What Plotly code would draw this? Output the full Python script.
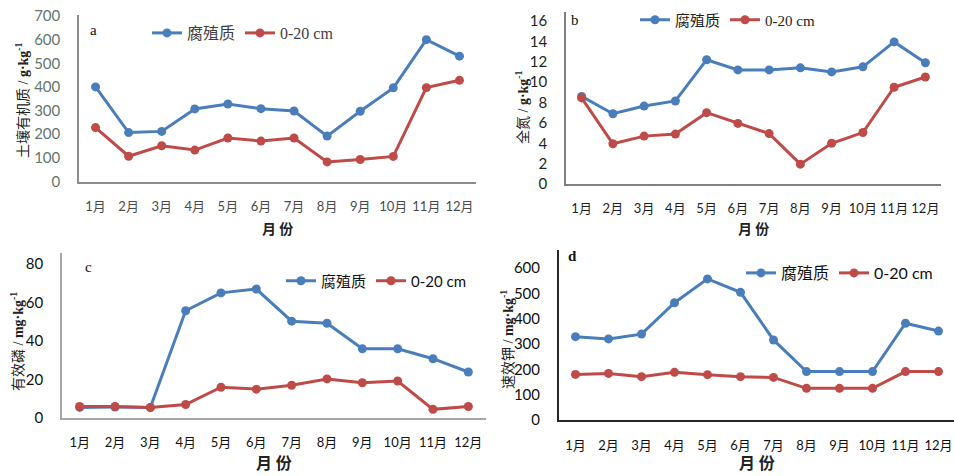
import plotly.graph_objects as go

# Monthly soil nutrient contents: humus layer vs. 0-20 cm topsoil
months = ["1月", "2月", "3月", "4月", "5月", "6月", "7月", "8月", "9月", "10月", "11月", "12月"]
series_names = ["腐殖质", "0-20 cm"]

# a: soil organic matter (g/kg)
organic_humus = [400, 207, 212, 307, 328, 308, 298, 192, 297, 396, 600, 530]
organic_topsoil = [228, 107, 151, 133, 184, 171, 184, 83, 93, 106, 397, 428]
organic_ticks = [0, 100, 200, 300, 400, 500, 600, 700]

# b: total nitrogen (g/kg)
nitrogen_humus = [8.6, 6.9, 7.65, 8.15, 12.2, 11.2, 11.2, 11.4, 11.0, 11.5, 13.95, 11.9]
nitrogen_topsoil = [8.45, 3.95, 4.7, 4.9, 7.0, 5.95, 4.95, 1.95, 4.0, 5.05, 9.5, 10.5]
nitrogen_ticks = [0, 2, 4, 6, 8, 10, 12, 14, 16]

# c: available phosphorus (mg/kg)
phosphorus_humus = [5.5, 5.7, 5.5, 55.7, 65.0, 67.0, 50.3, 49.2, 36.0, 36.0, 30.8, 23.9]
phosphorus_topsoil = [6.0, 6.0, 5.4, 7.0, 16.0, 15.0, 17.0, 20.3, 18.3, 19.2, 4.5, 6.0]
phosphorus_ticks = [0, 20, 40, 60, 80]

# d: available potassium (mg/kg)
potassium_humus = [329, 320, 339, 463, 557, 504, 316, 191, 191, 191, 382, 351]
potassium_topsoil = [180, 184, 171, 188, 179, 171, 168, 125, 125, 125, 191, 191]
potassium_ticks = [0, 100, 200, 300, 400, 500, 600]

BLUE = "#4a7ebb"
RED = "#be4b48"
W, H = 954, 476
CJK = "Noto Sans CJK SC"


def px_x(v):
    return min(v, W) / W


def px_y(v):
    return 1 - min(v, H) / H


fig = go.Figure()

panels = [
    dict(key="", humus=organic_humus, top=organic_topsoil, ticks=organic_ticks,
         x0=79, x1=476, ybot=181.5, ytop=15, tmax=700, tpx=16,
         tickcolor="#64766a", xtickcolor="#4a4a4a", axiscolor="#8c8c8c", axiswidth=1.5,
         tickfont="Lato", legend=dict(x=147, y=33, font="Liberation Serif", size=16, color="#404040"),
         title="土壤有机质 / <b>g·kg<sup>-1</sup></b>", tx=22, ty=100,
         letter="a", lx=93, ly=30, xt_y=228, xt_size=14, xt_anchor="middle"),
    dict(key="2", humus=nitrogen_humus, top=nitrogen_topsoil, ticks=nitrogen_ticks,
         x0=566, x1=941, ybot=184, ytop=12, tmax=16, tpx=21,
         tickcolor="#1e261e", xtickcolor="#1e1e1e", axiscolor="#808080", axiswidth=1.5,
         tickfont="Lato", legend=dict(x=635, y=20, font="Liberation Serif", size=15, color="#222222"),
         title="全氮 / <b>g·kg<sup>-1</sup></b>", tx=522, ty=107,
         letter="b", lx=575, ly=20, xt_y=228, xt_size=14, xt_anchor="middle"),
    dict(key="3", humus=phosphorus_humus, top=phosphorus_topsoil, ticks=phosphorus_ticks,
         x0=62, x1=486, ybot=418, ytop=253, tmax=80, tpx=264,
         tickcolor="#111111", xtickcolor="#111111", axiscolor="#a6a6a6", axiswidth=1.5,
         tickfont="Lato", legend=dict(x=281, y=281, font="Lato", size=15, color="#111111"),
         title="有效磷 / <b>mg·kg<sup>-1</sup></b>", tx=17, ty=342,
         letter="c", lx=88, ly=267, xt_y=476, xt_size=16, xt_anchor="bottom"),
    dict(key="4", humus=potassium_humus, top=potassium_topsoil, ticks=potassium_ticks,
         x0=559, x1=955, ybot=420, ytop=250, tmax=600, tpx=268,
         tickcolor="#111111", xtickcolor="#111111", axiscolor="#262626", axiswidth=2,
         tickfont="Lato", legend=dict(x=741, y=273, font="Lato", size=16, color="#111111"),
         title="速效钾 / <b>mg·kg<sup>-1</sup></b>", tx=507, ty=340,
         letter="<b>d</b>", lx=572, ly=256, xt_y=476, xt_size=16, xt_anchor="bottom"),
]

annotations = []
layout_axes = {}
for p in panels:
    k = p["key"]
    # y range chosen so the top tick sits where the axis scale puts it
    scale = (p["ybot"] - p["tpx"]) / p["tmax"]
    ymax = (p["ybot"] - p["ytop"]) / scale
    # keep the month spacing even when the plot area is clipped at the page edge
    step = (p["x1"] - p["x0"]) / 12
    xmax = -0.5 + (min(p["x1"], W) - p["x0"]) / step
    legend_name = "legend" + k
    for name, vals, color in ((series_names[0], p["humus"], BLUE), (series_names[1], p["top"], RED)):
        fig.add_trace(go.Scatter(
            x=months, y=vals, name=name, mode="lines+markers",
            line=dict(color=color, width=3),
            marker=dict(color=color, size=9),
            xaxis="x" + k, yaxis="y" + k, legend=legend_name,
        ))
    layout_axes["xaxis" + k] = dict(
        domain=[px_x(p["x0"]), px_x(p["x1"])], anchor="y" + k,
        type="category", categoryorder="array", categoryarray=months,
        range=[-0.5, xmax], showgrid=False, zeroline=False, automargin=False,
        showline=True, linecolor=p["axiscolor"], linewidth=p["axiswidth"], ticks="",
        tickfont=dict(family="Lato, " + CJK, size=13, color=p["xtickcolor"]),
        ticklabelstandoff=12, fixedrange=True,
    )
    layout_axes["yaxis" + k] = dict(
        domain=[px_y(p["ybot"]), px_y(p["ytop"])], anchor="x" + k,
        range=[0, ymax], tickvals=p["ticks"], showgrid=False, zeroline=False,
        automargin=False,
        showline=True, linecolor=p["axiscolor"], linewidth=p["axiswidth"], ticks="",
        tickfont=dict(family=p["tickfont"], size=15, color=p["tickcolor"]),
        ticklabelstandoff=14, fixedrange=True,
    )
    lg = p["legend"]
    layout_axes[legend_name] = dict(
        x=px_x(lg["x"]), y=px_y(lg["y"]), xanchor="left", yanchor="middle",
        orientation="h", bgcolor="rgba(0,0,0,0)", borderwidth=0,
        font=dict(family=lg["font"] + ", " + CJK, size=lg["size"], color=lg["color"]),
        itemclick=False, itemdoubleclick=False,
    )
    annotations.append(dict(
        text=p["title"], x=px_x(p["tx"]), y=px_y(p["ty"]), xref="paper", yref="paper",
        textangle=-90, showarrow=False, xanchor="center", yanchor="middle",
        font=dict(family="Liberation Serif, " + CJK, size=14, color="#222222"),
    ))
    annotations.append(dict(
        text=p["letter"], x=px_x(p["lx"]), y=px_y(p["ly"]), xref="paper", yref="paper",
        showarrow=False, xanchor="center", yanchor="middle",
        font=dict(family="Liberation Serif", size=15, color="#111111"),
    ))
    annotations.append(dict(
        text="<b>月 份</b>", x=(px_x(p["x0"]) + px_x(p["x1"])) / 2, y=px_y(p["xt_y"]),
        xref="paper", yref="paper", showarrow=False, xanchor="center",
        yanchor=p["xt_anchor"],
        font=dict(family=CJK, size=p["xt_size"], color="#222222"),
    ))

fig.update_layout(
    width=W, height=H, margin=dict(l=0, r=0, t=0, b=0),
    paper_bgcolor="white", plot_bgcolor="white",
    annotations=annotations, **layout_axes,
)

fig.write_html("out.html", config={"displayModeBar": False})
